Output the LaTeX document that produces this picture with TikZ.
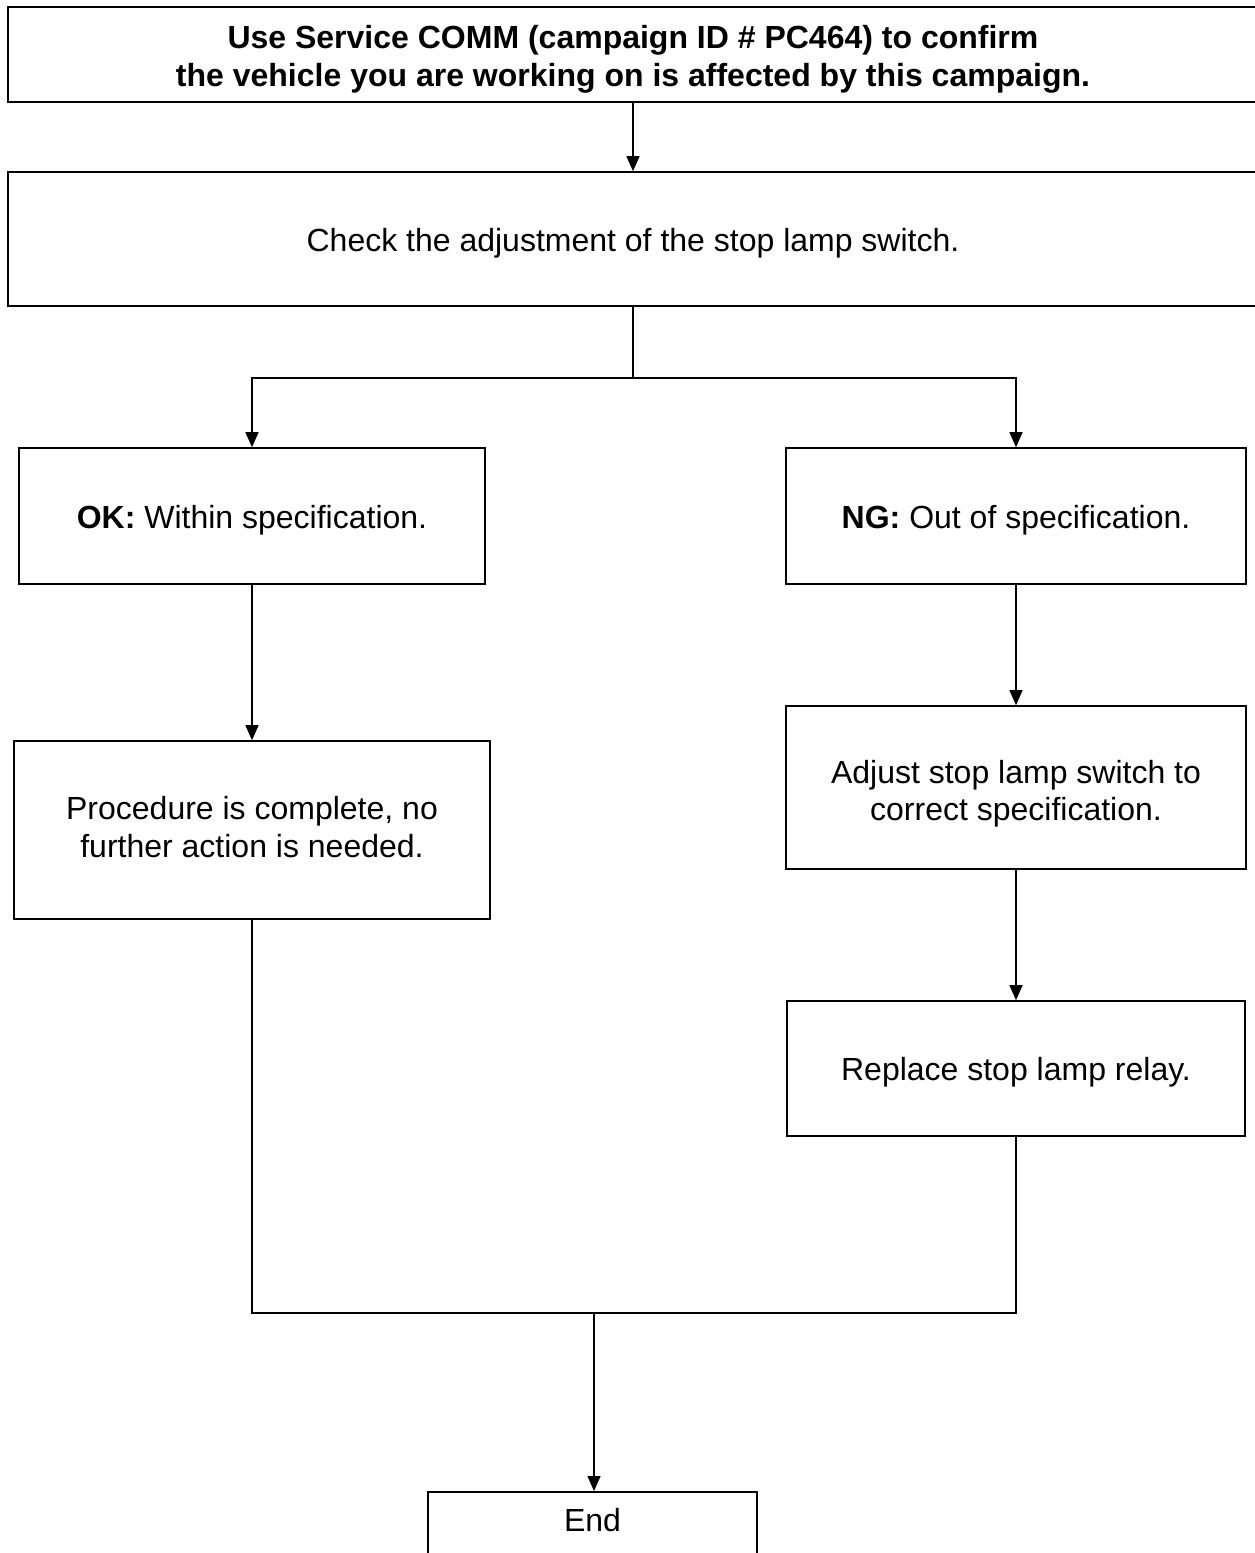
\documentclass[tikz,border=0pt]{standalone}
\usepackage{fontspec}
\setmainfont{Liberation Sans}
\usetikzlibrary{arrows.meta}
\begin{document}
\begin{tikzpicture}[x=1pt,y=-1pt,
  box/.style={draw=black,line width=1.6pt,inner sep=0pt},
  txt/.style={align=center,inner sep=0pt,font=\fontsize{32}{37.5}\selectfont},
  conn/.style={line width=1.4pt},
  arr/.style={conn,-{Triangle[length=15pt,width=13pt]}}]
\useasboundingbox (0,0) rectangle (1255,1553);
\clip (0,0) rectangle (1255,1553);
\node[box,minimum width=1250pt,minimum height=95pt,
  label={[txt,yshift=-5pt]center:{\bfseries Use Service COMM (campaign ID \# PC464) to confirm\\\bfseries the vehicle you are working on is affected by this campaign.}}] (b1) at (633,54.5) {};
\node[box,minimum width=1250pt,minimum height=134pt,
  label={[txt,yshift=-4pt]center:Check the adjustment of the stop lamp switch.}] (b2) at (633,239) {};
\node[box,minimum width=466pt,minimum height=136pt,
  label={[txt,yshift=-4pt]center:{\textbf{OK:} Within specification.}}] (ok) at (252,516) {};
\node[box,minimum width=460pt,minimum height=136pt,
  label={[txt,yshift=-4pt]center:{\textbf{NG:} Out of specification.}}] (ng) at (1016,516) {};
\node[box,minimum width=476pt,minimum height=178pt,
  label={[txt,yshift=3pt]center:{Procedure is complete, no\\further action is needed.}}] (proc) at (252,830) {};
\node[box,minimum width=460pt,minimum height=163pt,
  label={[txt,yshift=-6pt]center:{Adjust stop lamp switch to\\correct specification.}}] (adj) at (1016,787.5) {};
\node[box,minimum width=458pt,minimum height=135pt,
  label={[txt,yshift=-4pt]center:Replace stop lamp relay.}] (rep) at (1016,1068.5) {};
\node[box,txt,anchor=north,minimum width=329pt,text height=40pt,text depth=40pt] (end) at (592.5,1491)
  {End};
\coordinate (j1) at (633,378);
\coordinate (j2) at (594,1313);
\draw[arr] (b1.south) -- (b2.north);
\draw[conn] (b2.south) -- (j1);
\draw[arr] (j1) -| (ok.north);
\draw[arr] (j1) -| (ng.north);
\draw[arr] (ok.south) -- (proc.north);
\draw[arr] (ng.south) -- (adj.north);
\draw[arr] (adj.south) -- (rep.north);
\draw[conn] (proc.south) |- (j2);
\draw[conn] (rep.south) |- (j2);
\draw[arr] (j2) -- (j2 |- end.north);
\end{tikzpicture}
\end{document}
